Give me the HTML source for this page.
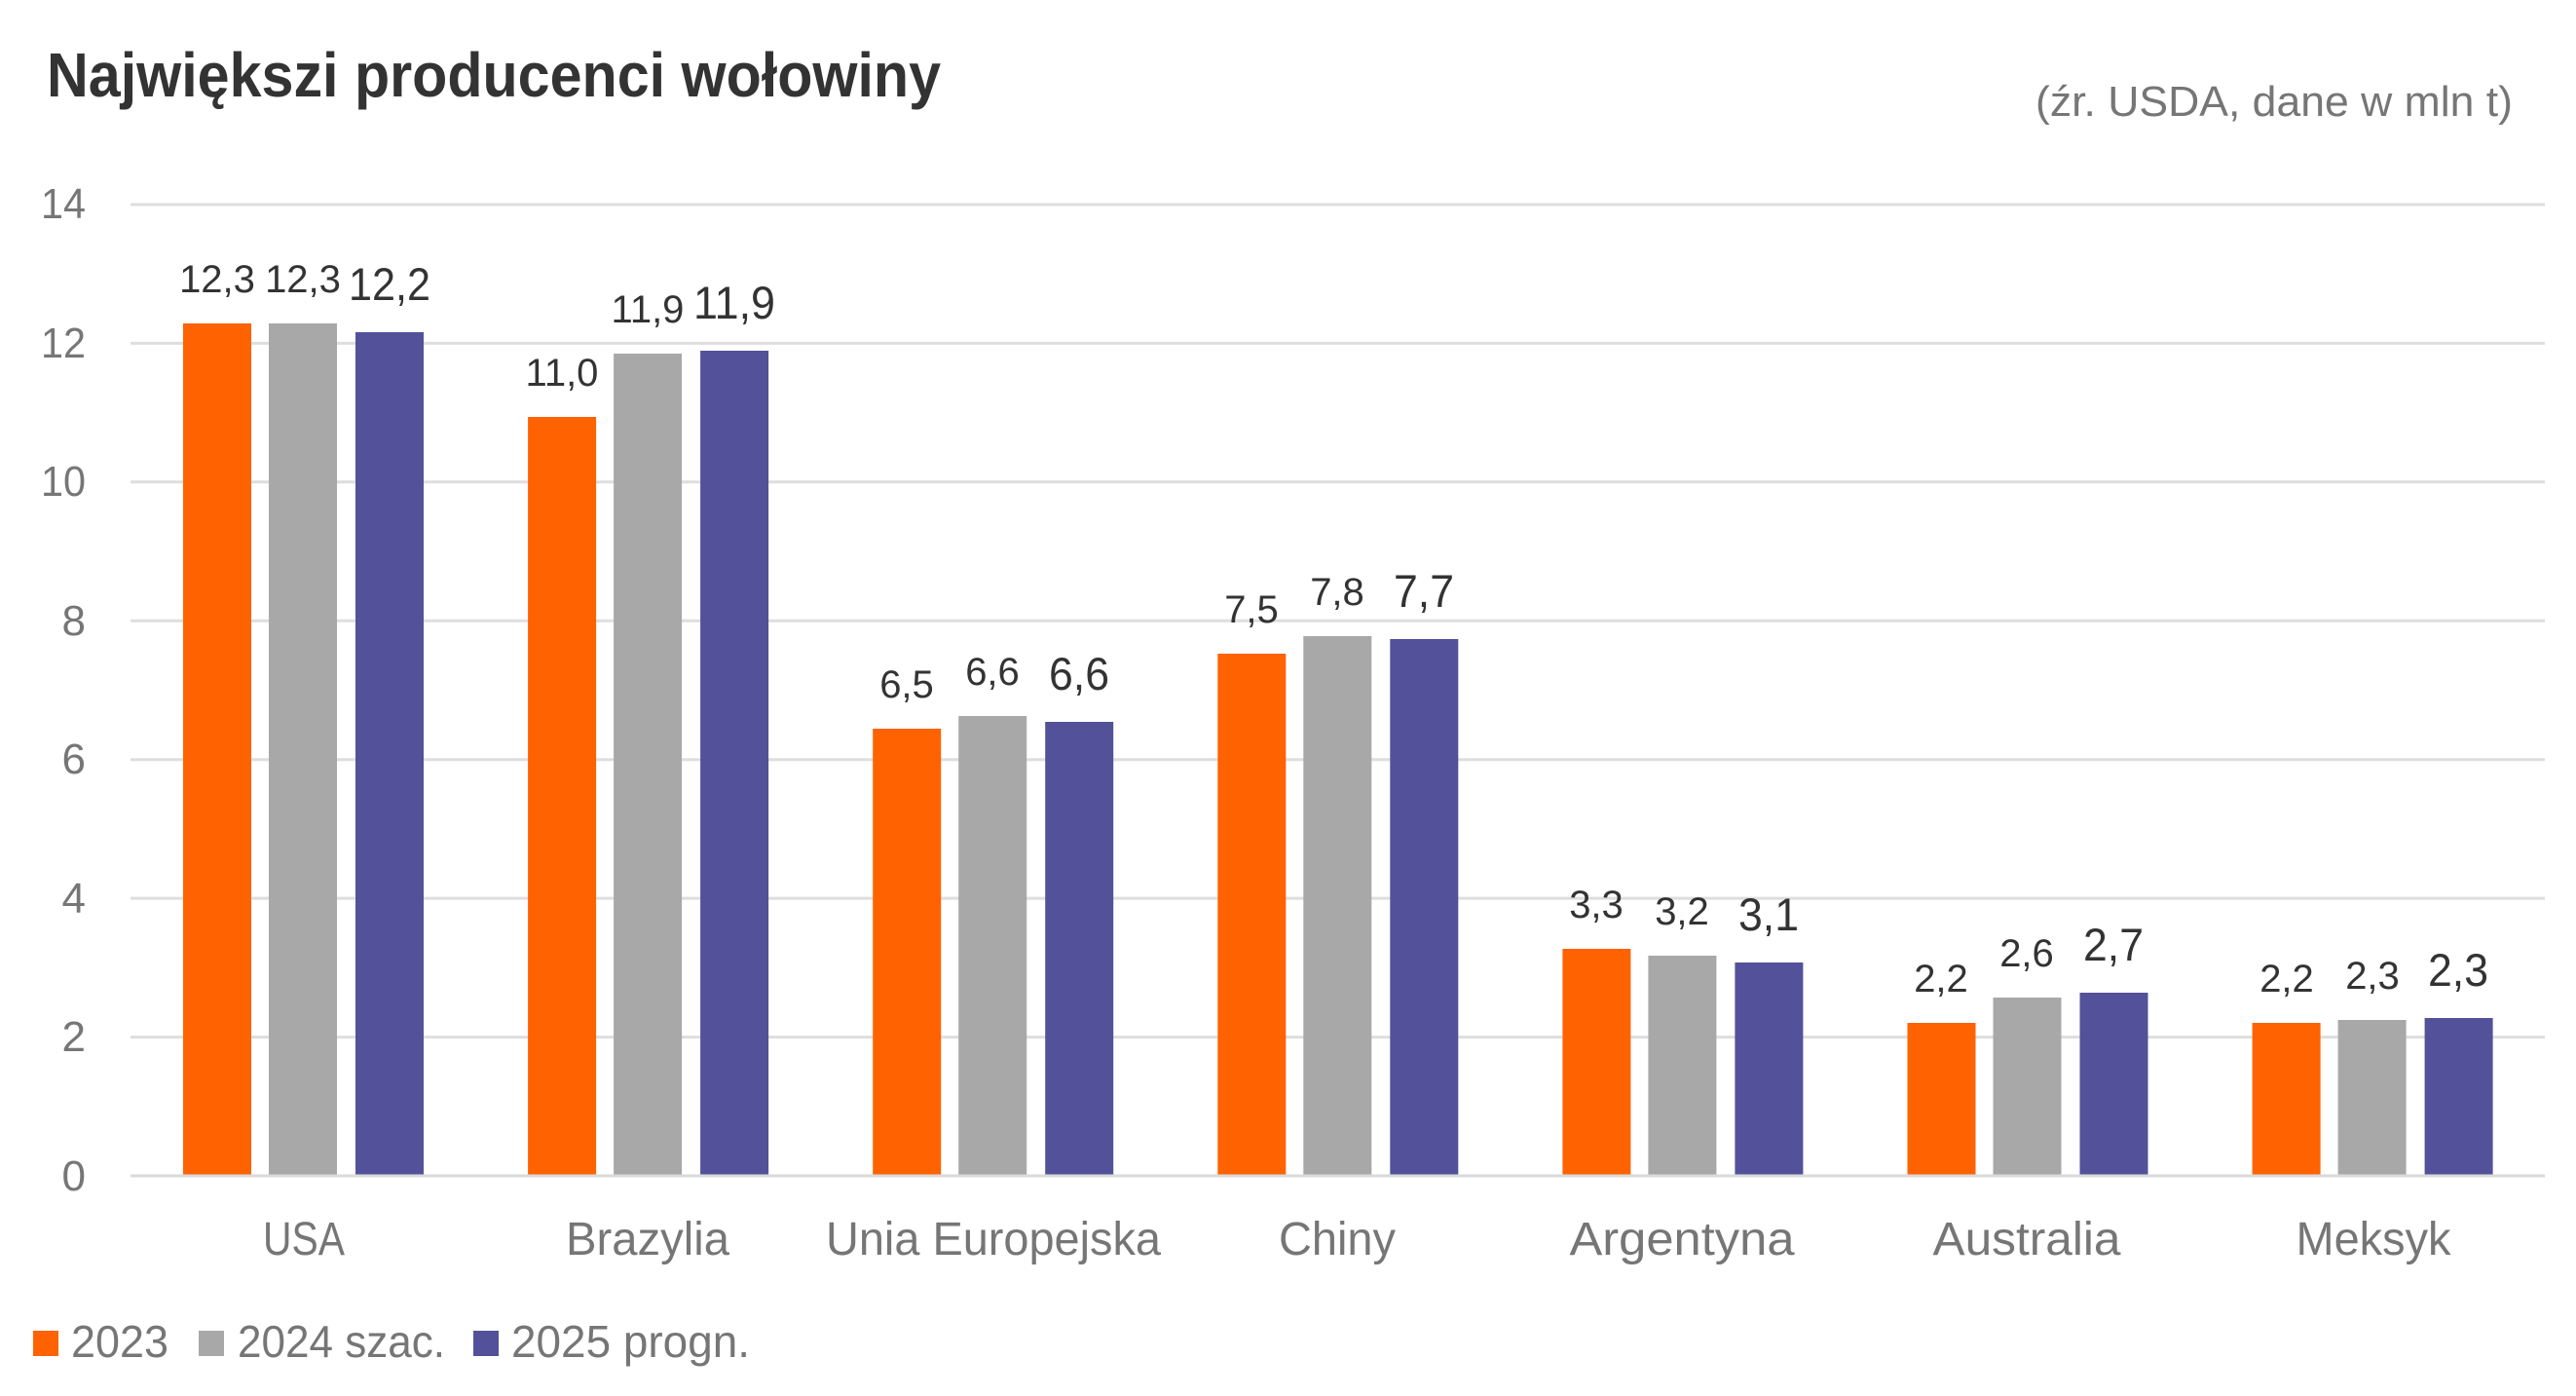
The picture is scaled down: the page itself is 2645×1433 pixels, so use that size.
<!DOCTYPE html>
<html>
<head>
<meta charset="utf-8">
<style>
html,body{margin:0;padding:0;background:#fff;}
svg{display:block;}
text{font-family:"Liberation Sans","DejaVu Sans",sans-serif;}
</style>
</head>
<body>
<svg width="2645" height="1433" viewBox="0 0 2645 1433" xmlns="http://www.w3.org/2000/svg">
<rect width="2645" height="1433" fill="#fff"/>
<!-- Title -->
<text x="48" y="99" font-size="64" font-weight="bold" fill="#333333" textLength="918" lengthAdjust="spacingAndGlyphs">Największi producenci wołowiny</text>
<text x="2580" y="119" font-size="44" fill="#767676" text-anchor="end" textLength="490" lengthAdjust="spacingAndGlyphs">(źr. USDA, dane w mln t)</text>

<!-- Gridlines -->
<g stroke="#dedede" stroke-width="3">
<line x1="134" y1="210" x2="2613" y2="210"/>
<line x1="134" y1="352.4" x2="2613" y2="352.4"/>
<line x1="134" y1="494.8" x2="2613" y2="494.8"/>
<line x1="134" y1="637.3" x2="2613" y2="637.3"/>
<line x1="134" y1="779.7" x2="2613" y2="779.7"/>
<line x1="134" y1="922.1" x2="2613" y2="922.1"/>
<line x1="134" y1="1064.6" x2="2613" y2="1064.6"/>
</g>

<!-- Y tick labels -->
<g font-size="44" fill="#767676" text-anchor="end">
<text x="88" y="224" textLength="46" lengthAdjust="spacingAndGlyphs">14</text>
<text x="88" y="367" textLength="46" lengthAdjust="spacingAndGlyphs">12</text>
<text x="88" y="509" textLength="46" lengthAdjust="spacingAndGlyphs">10</text>
<text x="88" y="652">8</text>
<text x="88" y="794">6</text>
<text x="88" y="937">4</text>
<text x="88" y="1079">2</text>
<text x="88" y="1222">0</text>
</g>

<!-- Bars -->
<g>
<!-- USA -->
<rect x="188" y="332" width="70" height="874" fill="#FF6200"/>
<rect x="276" y="332" width="70" height="874" fill="#A8A8A8"/>
<rect x="365" y="341" width="70" height="865" fill="#525199"/>
<!-- Brazylia -->
<rect x="542.1" y="428" width="70" height="778" fill="#FF6200"/>
<rect x="630.1" y="363" width="70" height="843" fill="#A8A8A8"/>
<rect x="719.1" y="360" width="70" height="846" fill="#525199"/>
<!-- UE -->
<rect x="896.2" y="748" width="70" height="458" fill="#FF6200"/>
<rect x="984.2" y="735" width="70" height="471" fill="#A8A8A8"/>
<rect x="1073.2" y="741" width="70" height="465" fill="#525199"/>
<!-- Chiny -->
<rect x="1250.3" y="671" width="70" height="535" fill="#FF6200"/>
<rect x="1338.3" y="653" width="70" height="553" fill="#A8A8A8"/>
<rect x="1427.3" y="656" width="70" height="550" fill="#525199"/>
<!-- Argentyna -->
<rect x="1604.4" y="974" width="70" height="232" fill="#FF6200"/>
<rect x="1692.4" y="981" width="70" height="225" fill="#A8A8A8"/>
<rect x="1781.4" y="988" width="70" height="218" fill="#525199"/>
<!-- Australia -->
<rect x="1958.5" y="1050" width="70" height="156" fill="#FF6200"/>
<rect x="2046.5" y="1024" width="70" height="182" fill="#A8A8A8"/>
<rect x="2135.5" y="1019" width="70" height="187" fill="#525199"/>
<!-- Meksyk -->
<rect x="2312.6" y="1050" width="70" height="156" fill="#FF6200"/>
<rect x="2400.6" y="1047" width="70" height="159" fill="#A8A8A8"/>
<rect x="2489.6" y="1045" width="70" height="161" fill="#525199"/>
</g>

<!-- Axis line -->
<line x1="134" y1="1207" x2="2613" y2="1207" stroke="#dadada" stroke-width="3"/>

<!-- Data labels -->
<g font-size="40" fill="#333333" text-anchor="middle">
<text x="223" y="300">12,3</text>
<text x="311" y="300">12,3</text>
<text x="577" y="396">11,0</text>
<text x="665" y="331">11,9</text>
<text x="931" y="716">6,5</text>
<text x="1019" y="703">6,6</text>
<text x="1285" y="639">7,5</text>
<text x="1373" y="621">7,8</text>
<text x="1639" y="942">3,3</text>
<text x="1727" y="949">3,2</text>
<text x="1993" y="1018">2,2</text>
<text x="2081" y="992">2,6</text>
<text x="2348" y="1018">2,2</text>
<text x="2436" y="1015">2,3</text>
</g>
<g font-size="47" fill="#333333" text-anchor="middle">
<text x="400" y="308" textLength="84" lengthAdjust="spacingAndGlyphs">12,2</text>
<text x="754" y="327" textLength="84" lengthAdjust="spacingAndGlyphs">11,9</text>
<text x="1108" y="708" textLength="62" lengthAdjust="spacingAndGlyphs">6,6</text>
<text x="1462" y="623" textLength="62" lengthAdjust="spacingAndGlyphs">7,7</text>
<text x="1816" y="955" textLength="62" lengthAdjust="spacingAndGlyphs">3,1</text>
<text x="2170" y="986" textLength="62" lengthAdjust="spacingAndGlyphs">2,7</text>
<text x="2524" y="1012" textLength="62" lengthAdjust="spacingAndGlyphs">2,3</text>
</g>

<!-- Category labels -->
<g font-size="48" fill="#767676" text-anchor="middle">
<text x="312" y="1288" textLength="84" lengthAdjust="spacingAndGlyphs">USA</text>
<text x="665" y="1288" textLength="168" lengthAdjust="spacingAndGlyphs">Brazylia</text>
<text x="1020" y="1288" textLength="344" lengthAdjust="spacingAndGlyphs">Unia Europejska</text>
<text x="1373" y="1288" textLength="120" lengthAdjust="spacingAndGlyphs">Chiny</text>
<text x="1727" y="1288" textLength="231" lengthAdjust="spacingAndGlyphs">Argentyna</text>
<text x="2081" y="1288" textLength="193" lengthAdjust="spacingAndGlyphs">Australia</text>
<text x="2437" y="1288" textLength="159" lengthAdjust="spacingAndGlyphs">Meksyk</text>
</g>

<!-- Legend -->
<rect x="34" y="1366" width="26" height="26" fill="#FF6200"/>
<text x="73" y="1393" font-size="46" fill="#767676" textLength="100" lengthAdjust="spacingAndGlyphs">2023</text>
<rect x="204" y="1366" width="26" height="26" fill="#A8A8A8"/>
<text x="244" y="1393" font-size="46" fill="#767676" textLength="213" lengthAdjust="spacingAndGlyphs">2024 szac.</text>
<rect x="486" y="1366" width="26" height="26" fill="#525199"/>
<text x="525" y="1393" font-size="46" fill="#767676" textLength="245" lengthAdjust="spacingAndGlyphs">2025 progn.</text>
</svg>
</body>
</html>
